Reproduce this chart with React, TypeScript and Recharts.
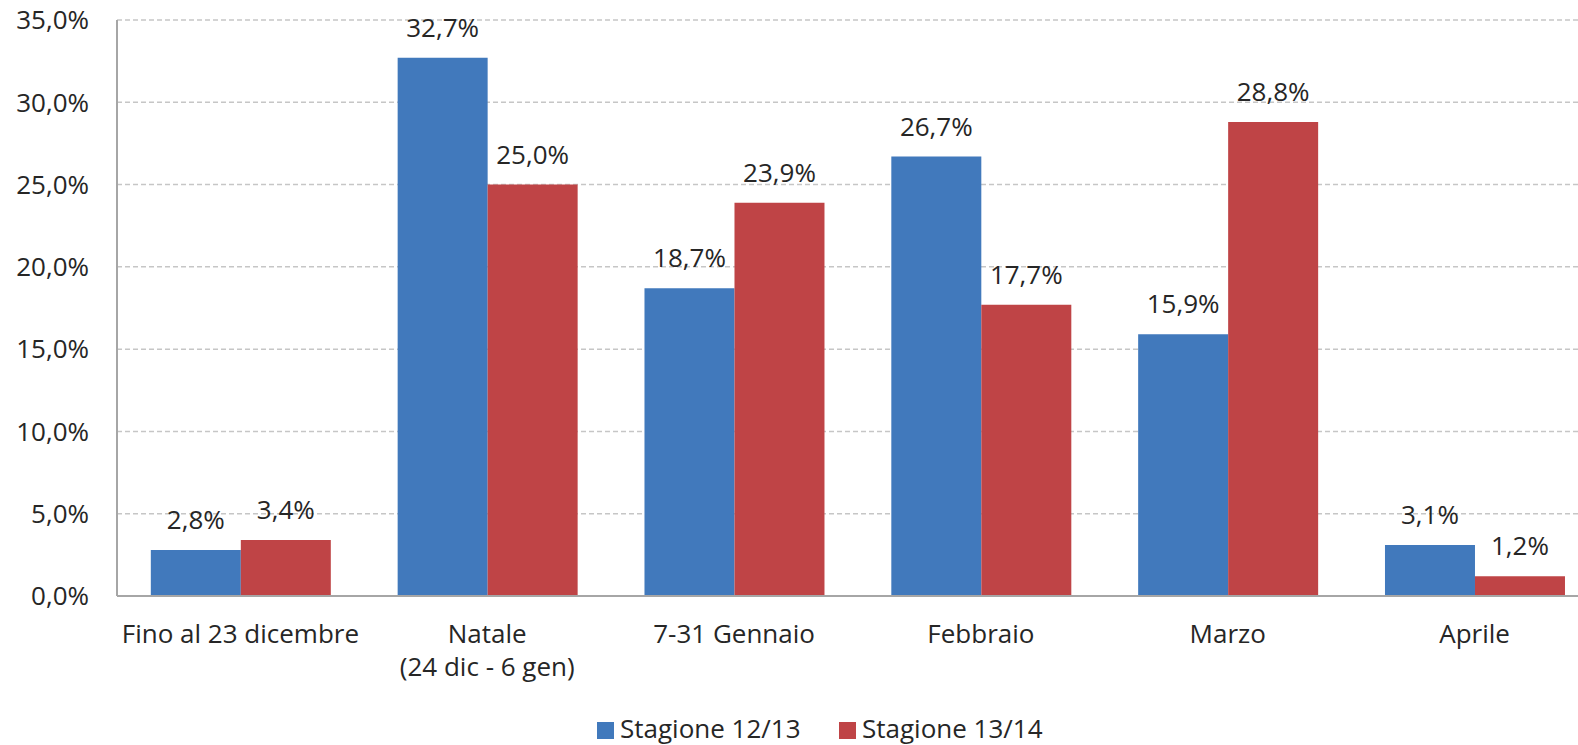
import React from "react";
import { BarChart, Bar, XAxis, YAxis, CartesianGrid, Legend, LabelList } from "recharts";

const categories = ["Fino al 23 dicembre", "Natale\n(24 dic - 6 gen)", "7-31 Gennaio", "Febbraio", "Marzo", "Aprile"];
const season1213 = [2.8, 32.7, 18.7, 26.7, 15.9, 3.1];
const season1314 = [3.4, 25.0, 23.9, 17.7, 28.8, 1.2];
const yTicks = [0, 5, 10, 15, 20, 25, 30, 35];
const seriesNames = ["Stagione 12/13", "Stagione 13/14"];
const colors = ["#4179BC", "#BF4446"];

const data = categories.map((c, i) => ({ cat: c, s1: season1213[i], s2: season1314[i] }));

const FONT = "'Open Sans', sans-serif";
const TEXT = "#262626";

const fmt = (v: number) => v.toFixed(1).replace(".", ",") + "%";

const XTick = (props: any) => {
  const { x, y, payload } = props;
  const lines = String(payload.value).split("\n");
  return (
    <text x={x} y={y} textAnchor="middle" fill={TEXT} fontFamily={FONT} fontSize={26}>
      {lines.map((l, i) => (
        <tspan key={i} x={x} dy={i === 0 ? 47 : 33}>
          {l}
        </tspan>
      ))}
    </text>
  );
};

const LegendContent = () => (
  <svg width={460} height={40} style={{ display: "block", overflow: "visible" }}>
    <rect x={0} y={17} width={17} height={17} fill={colors[0]} />
    <text x={23} y={33} fill={TEXT} fontFamily={FONT} fontSize={26}>
      {seriesNames[0]}
    </text>
    <rect x={242} y={17} width={17} height={17} fill={colors[1]} />
    <text x={265} y={33} fill={TEXT} fontFamily={FONT} fontSize={26}>
      {seriesNames[1]}
    </text>
  </svg>
);

export default function App() {
  return (
    <div style={{ position: "absolute", left: 0, top: 0, width: 1578, height: 745, overflow: "hidden", background: "#fff" }}>
      <BarChart
        width={1598}
        height={745}
        data={data}
        margin={{ top: 20, right: 0, left: 0, bottom: 0 }}
        barCategoryGap="13.7%"
        barGap={0}
      >
        <CartesianGrid vertical={false} stroke="#C6C6C6" strokeWidth={1.5} strokeDasharray="5 3" />
        <XAxis
          dataKey="cat"
          interval={0}
          tickLine={false}
          tickSize={0}
          tickMargin={0}
          height={109}
          axisLine={{ stroke: "#A6A6A6", strokeWidth: 2 }}
          tick={<XTick />}
        />
        <YAxis
          width={117}
          domain={[0, 35]}
          ticks={yTicks}
          interval={0}
          tickLine={false}
          tickSize={0}
          tickMargin={28}
          axisLine={{ stroke: "#A6A6A6", strokeWidth: 2 }}
          tickFormatter={(v: number) => fmt(v)}
          tick={{ fill: TEXT, fontFamily: FONT, fontSize: 26 }}
        />
        <Legend
          verticalAlign="bottom"
          content={<LegendContent />}
          wrapperStyle={{ left: 597, width: 460, height: 40, bottom: 0 }}
        />
        <Bar dataKey="s1" name={seriesNames[0]} fill={colors[0]} isAnimationActive={false}>
          <LabelList
            dataKey="s1"
            position="top"
            offset={21}
            formatter={(v: any) => fmt(Number(v))}
            style={{ fill: TEXT, fontFamily: FONT, fontSize: 26 }}
          />
        </Bar>
        <Bar dataKey="s2" name={seriesNames[1]} fill={colors[1]} isAnimationActive={false}>
          <LabelList
            dataKey="s2"
            position="top"
            offset={21}
            formatter={(v: any) => fmt(Number(v))}
            style={{ fill: TEXT, fontFamily: FONT, fontSize: 26 }}
          />
        </Bar>
      </BarChart>
    </div>
  );
}
